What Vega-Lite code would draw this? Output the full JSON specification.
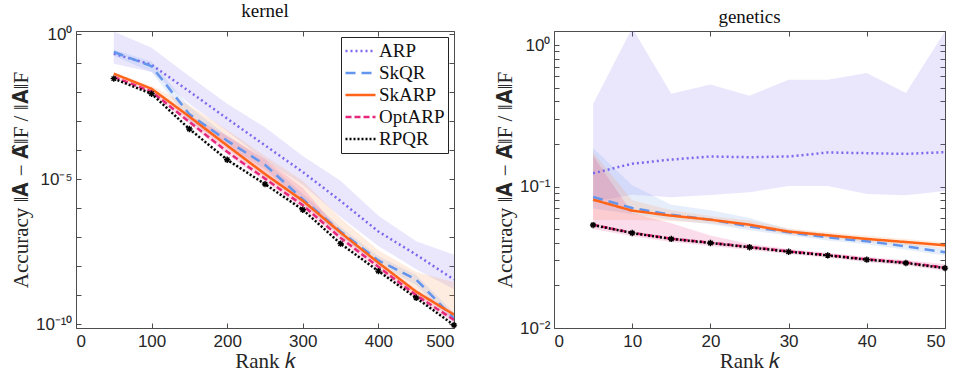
{
  "$schema": "https://vega.github.io/schema/vega-lite/v6.json",
  "padding": {"left": 9, "top": 1, "right": 5, "bottom": 1},
  "spacing": 32,
  "config": {
    "view": {"stroke": "#4d4d4d", "strokeWidth": 1},
    "axis": {"grid": false, "domain": false, "tickColor": "#4d4d4d", "tickSize": -5, "labelFont": "Liberation Sans", "labelFontSize": 17, "labelColor": "#262626", "titleFont": "Liberation Serif", "titleFontSize": 21, "titleFontWeight": "normal", "titleColor": "#262626", "labelPadding": 9},
    "axisX": {"labelPadding": 10, "titleFontSize": 21},
    "title": {"font": "Liberation Serif", "fontSize": 19, "fontWeight": "normal", "color": "#111", "offset": 4},
    "legend": {"orient": "top-right", "offset": 6, "fillColor": "white", "strokeColor": "#222", "padding": 3, "symbolType": "stroke", "symbolSize": 900, "symbolStrokeWidth": 2.5, "labelFont": "Liberation Serif", "labelFontSize": 19, "labelColor": "#111", "rowPadding": 0, "clipHeight": 22, "labelOffset": 2}
  },
  "datasets": {
    "d": [
      {"p":"kernel","m":"ARP","k":50,"v":0.214,"lo":0.0955,"hi":1.25},
      {"p":"kernel","m":"ARP","k":100,"v":0.0891,"lo":0.05,"hi":0.347},
      {"p":"kernel","m":"ARP","k":150,"v":0.0107,"lo":0.004,"hi":0.0355},
      {"p":"kernel","m":"ARP","k":200,"v":0.00123,"lo":0.00045,"hi":0.004},
      {"p":"kernel","m":"ARP","k":250,"v":0.000148,"lo":4.5e-5,"hi":0.00062},
      {"p":"kernel","m":"ARP","k":300,"v":1.78e-5,"lo":6.3e-6,"hi":6.3e-5},
      {"p":"kernel","m":"ARP","k":350,"v":1.78e-6,"lo":5.0e-7,"hi":8.9e-6},
      {"p":"kernel","m":"ARP","k":400,"v":1.58e-7,"lo":5.0e-8,"hi":5.5e-7},
      {"p":"kernel","m":"ARP","k":450,"v":2.5e-8,"lo":7.9e-9,"hi":7.2e-8},
      {"p":"kernel","m":"ARP","k":500,"v":3.47e-9,"lo":1.6e-9,"hi":2.5e-8},
      {"p":"kernel","m":"SkQR","k":50,"v":0.245,"lo":0.178,"hi":0.302},
      {"p":"kernel","m":"SkQR","k":100,"v":0.0794,"lo":0.05,"hi":0.112},
      {"p":"kernel","m":"SkQR","k":150,"v":0.00174,"lo":0.001,"hi":0.00316},
      {"p":"kernel","m":"SkQR","k":200,"v":0.000214,"lo":0.000141,"hi":0.000316},
      {"p":"kernel","m":"SkQR","k":250,"v":3.16e-5,"lo":2.24e-5,"hi":4.47e-5},
      {"p":"kernel","m":"SkQR","k":300,"v":2.04e-6,"lo":1.41e-6,"hi":3.16e-6},
      {"p":"kernel","m":"SkQR","k":350,"v":1.58e-7,"lo":1.12e-7,"hi":2.24e-7},
      {"p":"kernel","m":"SkQR","k":400,"v":1.58e-8,"lo":1.12e-8,"hi":2.24e-8},
      {"p":"kernel","m":"SkQR","k":450,"v":3.47e-9,"lo":2.24e-9,"hi":5.0e-9},
      {"p":"kernel","m":"SkQR","k":500,"v":1.58e-10,"lo":1.12e-10,"hi":2.5e-10},
      {"p":"kernel","m":"SkARP","k":50,"v":0.0437,"lo":0.038,"hi":0.0501},
      {"p":"kernel","m":"SkARP","k":100,"v":0.0132,"lo":0.0112,"hi":0.0166},
      {"p":"kernel","m":"SkARP","k":150,"v":0.00145,"lo":0.00112,"hi":0.00355},
      {"p":"kernel","m":"SkARP","k":200,"v":0.000145,"lo":0.000112,"hi":0.0005},
      {"p":"kernel","m":"SkARP","k":250,"v":1.51e-5,"lo":1.17e-5,"hi":6.3e-5},
      {"p":"kernel","m":"SkARP","k":300,"v":1.82e-6,"lo":1.41e-6,"hi":8.9e-6},
      {"p":"kernel","m":"SkARP","k":350,"v":1.45e-7,"lo":1.12e-7,"hi":4.5e-7},
      {"p":"kernel","m":"SkARP","k":400,"v":1.32e-8,"lo":1.0e-8,"hi":3.55e-8},
      {"p":"kernel","m":"SkARP","k":450,"v":1.32e-9,"lo":1.0e-9,"hi":6.3e-9},
      {"p":"kernel","m":"SkARP","k":500,"v":2.14e-10,"lo":1.58e-10,"hi":2.8e-9},
      {"p":"kernel","m":"OptARP","k":50,"v":0.0339,"lo":0.0302,"hi":0.038},
      {"p":"kernel","m":"OptARP","k":100,"v":0.0105,"lo":0.0093,"hi":0.0117},
      {"p":"kernel","m":"OptARP","k":150,"v":0.00095,"lo":0.00079,"hi":0.00158},
      {"p":"kernel","m":"OptARP","k":200,"v":8.9e-5,"lo":7.1e-5,"hi":0.000316},
      {"p":"kernel","m":"OptARP","k":250,"v":1.05e-5,"lo":8.3e-6,"hi":5.0e-5},
      {"p":"kernel","m":"OptARP","k":300,"v":1.26e-6,"lo":1.0e-6,"hi":5.0e-6},
      {"p":"kernel","m":"OptARP","k":350,"v":9.5e-8,"lo":7.6e-8,"hi":1.58e-7},
      {"p":"kernel","m":"OptARP","k":400,"v":9.5e-9,"lo":7.6e-9,"hi":1.41e-8},
      {"p":"kernel","m":"OptARP","k":450,"v":1.0e-9,"lo":7.9e-10,"hi":1.58e-9},
      {"p":"kernel","m":"OptARP","k":500,"v":1.41e-10,"lo":1.12e-10,"hi":2.5e-10},
      {"p":"kernel","m":"RPQR","k":50,"v":0.0295,"lo":0.026,"hi":0.033},
      {"p":"kernel","m":"RPQR","k":100,"v":0.0089,"lo":0.0079,"hi":0.01},
      {"p":"kernel","m":"RPQR","k":150,"v":0.00054,"lo":0.00047,"hi":0.00062},
      {"p":"kernel","m":"RPQR","k":200,"v":4.7e-5,"lo":4.1e-5,"hi":5.4e-5},
      {"p":"kernel","m":"RPQR","k":250,"v":6.8e-6,"lo":5.9e-6,"hi":7.8e-6},
      {"p":"kernel","m":"RPQR","k":300,"v":8.9e-7,"lo":7.7e-7,"hi":1.02e-6},
      {"p":"kernel","m":"RPQR","k":350,"v":6.0e-8,"lo":5.2e-8,"hi":6.9e-8},
      {"p":"kernel","m":"RPQR","k":400,"v":6.8e-9,"lo":5.9e-9,"hi":7.8e-9},
      {"p":"kernel","m":"RPQR","k":450,"v":8.1e-10,"lo":7.0e-10,"hi":9.3e-10},
      {"p":"kernel","m":"RPQR","k":500,"v":9.3e-11,"lo":8.1e-11,"hi":1.07e-10},
      {"p":"genetics","m":"ARP","k":5,"v":0.124,"lo":0.078,"hi":0.383},
      {"p":"genetics","m":"ARP","k":10,"v":0.145,"lo":0.0875,"hi":1.32},
      {"p":"genetics","m":"ARP","k":15,"v":0.155,"lo":0.084,"hi":0.453},
      {"p":"genetics","m":"ARP","k":20,"v":0.163,"lo":0.087,"hi":0.525},
      {"p":"genetics","m":"ARP","k":25,"v":0.161,"lo":0.091,"hi":0.438},
      {"p":"genetics","m":"ARP","k":30,"v":0.163,"lo":0.101,"hi":0.569},
      {"p":"genetics","m":"ARP","k":35,"v":0.174,"lo":0.101,"hi":0.569},
      {"p":"genetics","m":"ARP","k":40,"v":0.172,"lo":0.0885,"hi":0.634},
      {"p":"genetics","m":"ARP","k":45,"v":0.17,"lo":0.0867,"hi":0.458},
      {"p":"genetics","m":"ARP","k":50,"v":0.175,"lo":0.093,"hi":1.25},
      {"p":"genetics","m":"SkQR","k":5,"v":0.0843,"lo":0.07,"hi":0.187},
      {"p":"genetics","m":"SkQR","k":10,"v":0.0705,"lo":0.064,"hi":0.102},
      {"p":"genetics","m":"SkQR","k":15,"v":0.0632,"lo":0.058,"hi":0.0744},
      {"p":"genetics","m":"SkQR","k":20,"v":0.0583,"lo":0.054,"hi":0.068},
      {"p":"genetics","m":"SkQR","k":25,"v":0.0522,"lo":0.049,"hi":0.06},
      {"p":"genetics","m":"SkQR","k":30,"v":0.0475,"lo":0.045,"hi":0.05},
      {"p":"genetics","m":"SkQR","k":35,"v":0.0437,"lo":0.0415,"hi":0.0462},
      {"p":"genetics","m":"SkQR","k":40,"v":0.041,"lo":0.039,"hi":0.0432},
      {"p":"genetics","m":"SkQR","k":45,"v":0.0378,"lo":0.0358,"hi":0.0398},
      {"p":"genetics","m":"SkQR","k":50,"v":0.0343,"lo":0.0325,"hi":0.0362},
      {"p":"genetics","m":"SkARP","k":5,"v":0.0807,"lo":0.058,"hi":0.174},
      {"p":"genetics","m":"SkARP","k":10,"v":0.0675,"lo":0.058,"hi":0.08},
      {"p":"genetics","m":"SkARP","k":15,"v":0.0622,"lo":0.057,"hi":0.068},
      {"p":"genetics","m":"SkARP","k":20,"v":0.0583,"lo":0.055,"hi":0.062},
      {"p":"genetics","m":"SkARP","k":25,"v":0.0537,"lo":0.051,"hi":0.0575},
      {"p":"genetics","m":"SkARP","k":30,"v":0.048,"lo":0.0457,"hi":0.0505},
      {"p":"genetics","m":"SkARP","k":35,"v":0.0452,"lo":0.043,"hi":0.0475},
      {"p":"genetics","m":"SkARP","k":40,"v":0.0426,"lo":0.0405,"hi":0.0448},
      {"p":"genetics","m":"SkARP","k":45,"v":0.0405,"lo":0.0385,"hi":0.0425},
      {"p":"genetics","m":"SkARP","k":50,"v":0.0384,"lo":0.0365,"hi":0.0403},
      {"p":"genetics","m":"OptARP","k":5,"v":0.0536,"lo":0.05,"hi":0.165},
      {"p":"genetics","m":"OptARP","k":10,"v":0.0471,"lo":0.0445,"hi":0.065},
      {"p":"genetics","m":"OptARP","k":15,"v":0.0428,"lo":0.0405,"hi":0.055},
      {"p":"genetics","m":"OptARP","k":20,"v":0.0401,"lo":0.038,"hi":0.045},
      {"p":"genetics","m":"OptARP","k":25,"v":0.0374,"lo":0.0356,"hi":0.0392},
      {"p":"genetics","m":"OptARP","k":30,"v":0.0348,"lo":0.0333,"hi":0.0362},
      {"p":"genetics","m":"OptARP","k":35,"v":0.0328,"lo":0.0314,"hi":0.034},
      {"p":"genetics","m":"OptARP","k":40,"v":0.0306,"lo":0.0293,"hi":0.0318},
      {"p":"genetics","m":"OptARP","k":45,"v":0.029,"lo":0.0277,"hi":0.0302},
      {"p":"genetics","m":"OptARP","k":50,"v":0.0267,"lo":0.0254,"hi":0.0282},
      {"p":"genetics","m":"RPQR","k":5,"v":0.0534,"lo":0.0518,"hi":0.055},
      {"p":"genetics","m":"RPQR","k":10,"v":0.0469,"lo":0.0455,"hi":0.0483},
      {"p":"genetics","m":"RPQR","k":15,"v":0.0426,"lo":0.0413,"hi":0.0439},
      {"p":"genetics","m":"RPQR","k":20,"v":0.0399,"lo":0.0387,"hi":0.0411},
      {"p":"genetics","m":"RPQR","k":25,"v":0.0372,"lo":0.0361,"hi":0.0383},
      {"p":"genetics","m":"RPQR","k":30,"v":0.0346,"lo":0.0336,"hi":0.0356},
      {"p":"genetics","m":"RPQR","k":35,"v":0.0326,"lo":0.0316,"hi":0.0336},
      {"p":"genetics","m":"RPQR","k":40,"v":0.0304,"lo":0.0295,"hi":0.0313},
      {"p":"genetics","m":"RPQR","k":45,"v":0.0288,"lo":0.0279,"hi":0.0297},
      {"p":"genetics","m":"RPQR","k":50,"v":0.0265,"lo":0.0257,"hi":0.0273}
    ]
  },
  "resolve": {
    "scale": {"x": "independent", "y": "independent", "color": "independent", "strokeDash": "independent", "fill": "independent"},
    "legend": {"color": "independent", "strokeDash": "independent"}
  },
  "hconcat": [
    {
      "title": {"text": "kernel"},
      "width": 378,
      "height": 297,
      "data": {"name": "d"},
      "transform": [{"filter": "datum.p == 'kernel'"}],
      "resolve": {"axis": {"x": "independent", "y": "independent"}},
      "layer": [
        {
          "mark": {"type": "area", "opacity": 0.16, "clip": true},
          "encoding": {
            "x": {"field": "k", "type": "quantitative", "scale": {"domain": [0, 500], "nice": false},
                  "axis": {"orient": "bottom", "values": [0, 100, 200, 300, 400, 500], "title": "Rank 𝑘", "titlePadding": 1}},
            "y": {"field": "lo", "type": "quantitative", "scale": {"type": "log", "domain": [7.4e-11, 1.3], "nice": false},
                  "axis": {"orient": "left", "values": [1e-10, 1e-9, 1e-8, 1e-7, 1e-6, 1e-5, 1e-4, 1e-3, 1e-2, 1e-1, 1],
                           "labelExpr": "round(log(datum.value)/LN10) == 0 ? '10⁰' : round(log(datum.value)/LN10) == -5 ? '10⁻⁵' : round(log(datum.value)/LN10) == -10 ? '10⁻¹⁰' : ''",
                           "title": "Accuracy ‖𝐀 − 𝐀̂‖F / ‖𝐀‖F", "titlePadding": 4}},
            "y2": {"field": "hi"},
            "fill": {"field": "m", "type": "nominal", "scale": {"domain": ["RPQR", "OptARP", "SkARP", "SkQR", "ARP"], "range": ["#aaaaaa", "#E6287D", "#FF8A3D", "#6495ED", "#7B68EE"]}, "legend": null}
          }
        },
        {
          "mark": {"type": "line", "strokeWidth": 2.5, "clip": true},
          "encoding": {
            "x": {"field": "k", "type": "quantitative", "axis": null},
            "y": {"field": "v", "type": "quantitative", "axis": null},
            "color": {"field": "m", "type": "nominal", "scale": {"domain": ["ARP", "SkQR", "SkARP", "OptARP", "RPQR"], "range": ["#7B68EE", "#6495ED", "#FF6418", "#E6287D", "#000000"]}, "legend": {"title": null}},
            "strokeDash": {"field": "m", "type": "nominal", "scale": {"domain": ["ARP", "SkQR", "SkARP", "OptARP", "RPQR"], "range": [[2, 3], [10, 6], [1, 0], [6, 3], [2, 2]]}, "legend": {"title": null}}
          }
        },
        {
          "transform": [{"filter": "datum.m == 'RPQR'"}],
          "mark": {"type": "point", "shape": "M-1,0L1,0M0,-1L0,1M-0.7,-0.7L0.7,0.7M-0.7,0.7L0.7,-0.7", "filled": false, "stroke": "#000", "strokeWidth": 1.4, "size": 40, "opacity": 1},
          "encoding": {
            "x": {"field": "k", "type": "quantitative", "axis": null},
            "y": {"field": "v", "type": "quantitative", "axis": null}
          }
        },
        {
          "mark": {"type": "point", "opacity": 0},
          "encoding": {
            "x": {"field": "k", "type": "quantitative", "axis": {"orient": "top", "values": [0, 100, 200, 300, 400, 500], "labels": false, "title": null}},
            "y": {"field": "v", "type": "quantitative", "axis": {"orient": "right", "values": [1e-10, 1e-9, 1e-8, 1e-7, 1e-6, 1e-5, 1e-4, 1e-3, 1e-2, 1e-1, 1], "labels": false, "title": null}}
          }
        }
      ]
    },
    {
      "title": {"text": "genetics"},
      "width": 391,
      "height": 297,
      "data": {"name": "d"},
      "transform": [{"filter": "datum.p == 'genetics'"}],
      "resolve": {"axis": {"x": "independent", "y": "independent"}},
      "layer": [
        {
          "mark": {"type": "area", "opacity": 0.16, "clip": true},
          "encoding": {
            "x": {"field": "k", "type": "quantitative", "scale": {"domain": [0, 50], "nice": false},
                  "axis": {"orient": "bottom", "values": [0, 10, 20, 30, 40, 50], "title": "Rank 𝑘", "titlePadding": 1}},
            "y": {"field": "lo", "type": "quantitative", "scale": {"type": "log", "domain": [0.01, 1.256], "nice": false},
                  "axis": {"orient": "left", "values": [0.01, 0.02, 0.03, 0.04, 0.05, 0.06, 0.07, 0.08, 0.09, 0.1, 0.2, 0.3, 0.4, 0.5, 0.6, 0.7, 0.8, 0.9, 1],
                           "labelExpr": "abs(log(datum.value)/LN10) < 0.01 ? '10⁰' : abs(log(datum.value)/LN10 + 1) < 0.01 ? '10⁻¹' : abs(log(datum.value)/LN10 + 2) < 0.01 ? '10⁻²' : ''",
                           "title": "Accuracy ‖𝐀 − 𝐀̂‖F / ‖𝐀‖F", "titlePadding": 4}},
            "y2": {"field": "hi"},
            "fill": {"field": "m", "type": "nominal", "scale": {"domain": ["RPQR", "OptARP", "SkARP", "SkQR", "ARP"], "range": ["#aaaaaa", "#E6287D", "#FF8A3D", "#6495ED", "#7B68EE"]}, "legend": null}
          }
        },
        {
          "mark": {"type": "line", "strokeWidth": 2.5, "clip": true},
          "encoding": {
            "x": {"field": "k", "type": "quantitative", "axis": null},
            "y": {"field": "v", "type": "quantitative", "axis": null},
            "color": {"field": "m", "type": "nominal", "scale": {"domain": ["ARP", "SkQR", "SkARP", "OptARP", "RPQR"], "range": ["#7B68EE", "#6495ED", "#FF6418", "#E6287D", "#000000"]}, "legend": null},
            "strokeDash": {"field": "m", "type": "nominal", "scale": {"domain": ["ARP", "SkQR", "SkARP", "OptARP", "RPQR"], "range": [[2, 3], [10, 6], [1, 0], [6, 3], [2, 2]]}, "legend": null}
          }
        },
        {
          "transform": [{"filter": "datum.m == 'RPQR'"}],
          "mark": {"type": "point", "shape": "M-1,0L1,0M0,-1L0,1M-0.7,-0.7L0.7,0.7M-0.7,0.7L0.7,-0.7", "filled": false, "stroke": "#000", "strokeWidth": 1.4, "size": 40, "opacity": 1},
          "encoding": {
            "x": {"field": "k", "type": "quantitative", "axis": null},
            "y": {"field": "v", "type": "quantitative", "axis": null}
          }
        },
        {
          "mark": {"type": "point", "opacity": 0},
          "encoding": {
            "x": {"field": "k", "type": "quantitative", "axis": {"orient": "top", "values": [0, 10, 20, 30, 40, 50], "labels": false, "title": null}},
            "y": {"field": "v", "type": "quantitative", "axis": {"orient": "right", "values": [0.01, 0.02, 0.03, 0.04, 0.05, 0.06, 0.07, 0.08, 0.09, 0.1, 0.2, 0.3, 0.4, 0.5, 0.6, 0.7, 0.8, 0.9, 1], "labels": false, "title": null}}
          }
        }
      ]
    }
  ]
}
